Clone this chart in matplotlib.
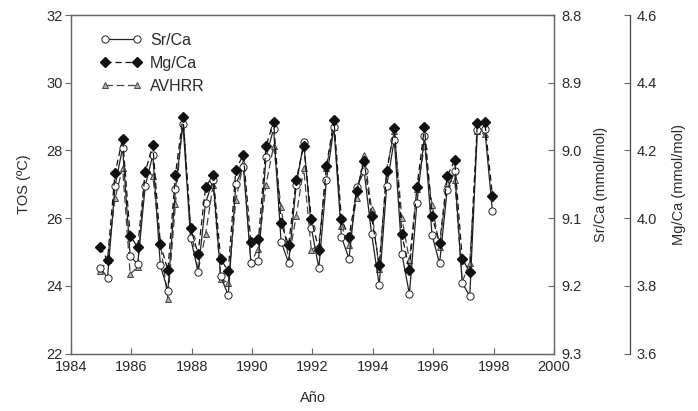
import matplotlib
matplotlib.use('Agg')

import matplotlib.pyplot as plt
from matplotlib import font_manager
from matplotlib.ticker import FormatStrFormatter

FONT_SIZE = 12
INK = '#2a2a2a'
SPINE = '#666666'

# quarterly sampling times (decimal year)
years = [1984.96, 1985.21, 1985.46, 1985.71,
         1985.96, 1986.21, 1986.46, 1986.71,
         1986.96, 1987.21, 1987.46, 1987.71,
         1987.96, 1988.21, 1988.46, 1988.71,
         1988.96, 1989.21, 1989.46, 1989.71,
         1989.96, 1990.21, 1990.46, 1990.71,
         1990.96, 1991.21, 1991.46, 1991.71,
         1991.96, 1992.21, 1992.46, 1992.71,
         1992.96, 1993.21, 1993.46, 1993.71,
         1993.96, 1994.21, 1994.46, 1994.71,
         1994.96, 1995.21, 1995.46, 1995.71,
         1995.96, 1996.21, 1996.46, 1996.71,
         1996.96, 1997.21, 1997.46, 1997.71,
         1997.96]

# Sr/Ca (mmol/mol)
sr_ca = [9.173, 9.188, 9.052, 8.996, 9.156, 9.168, 9.052, 9.007,
         9.170, 9.207, 9.057, 8.961, 9.129, 9.179, 9.077, 9.044,
         9.186, 9.214, 9.050, 9.024, 9.166, 9.163, 9.010, 8.968,
         9.135, 9.166, 9.051, 8.988, 9.114, 9.174, 9.044, 8.966,
         9.128, 9.160, 9.054, 9.031, 9.124, 9.199, 9.052, 8.984,
         9.153, 9.212, 9.077, 8.978, 9.125, 9.167, 9.059, 9.031,
         9.196, 9.215, 8.970, 8.969, 9.090]

# Mg/Ca (mmol/mol)
mg_ca = [3.915, 3.876, 4.133, 4.235, 3.948, 3.914, 4.136, 4.215,
         3.923, 3.846, 4.128, 4.299, 3.972, 3.894, 4.092, 4.126,
         3.879, 3.843, 4.143, 4.187, 3.930, 3.937, 4.212, 4.285,
         3.985, 3.920, 4.113, 4.214, 3.998, 3.906, 4.153, 4.289,
         3.996, 3.945, 4.079, 4.170, 4.005, 3.861, 4.138, 4.267,
         3.952, 3.846, 4.092, 4.269, 4.005, 3.925, 4.123, 4.171,
         3.879, 3.841, 4.282, 4.283, 4.066]

# AVHRR sea surface temperature (ºC), no value for the last quarter
avhrr = [24.43, 24.76, 26.59, 27.48, 24.34, 24.56, 27.46, 27.25,
         25.25, 23.62, 26.42, 29.03, 25.75, 24.43, 25.53, 26.99,
         24.20, 24.09, 26.52, 27.63, 24.70, 25.10, 26.99, 28.12,
         26.32, 24.75, 26.07, 27.48, 25.06, 25.20, 27.48, 28.70,
         25.77, 25.20, 26.59, 27.87, 26.26, 24.50, 27.45, 28.57,
         26.00, 24.76, 26.85, 28.12, 26.39, 25.15, 27.03, 27.13,
         24.12, 24.68, 28.57, 28.47]

x_ticks = [1984, 1986, 1988, 1990, 1992, 1994, 1996, 1998, 2000]
t_ticks = [22, 24, 26, 28, 30, 32]
sr_ticks = [8.8, 8.9, 9.0, 9.1, 9.2, 9.3]
mg_ticks = [3.6, 3.8, 4.0, 4.2, 4.4, 4.6]


def pick_font():
    names = {f.name for f in font_manager.fontManager.ttflist}
    for name in ['Liberation Sans Narrow', 'Liberation Sans', 'DejaVu Sans']:
        if name in names:
            return name
    return 'DejaVu Sans'


FONT = pick_font()
if FONT != 'Liberation Sans Narrow':
    FONT_SIZE = 10.5
plt.rcParams['font.family'] = [FONT, 'DejaVu Sans']
plt.rcParams['text.color'] = INK
plt.rcParams['axes.labelcolor'] = INK
plt.rcParams['xtick.color'] = INK
plt.rcParams['ytick.color'] = INK


def plot(dest):
    fig = plt.figure(figsize=(6.98, 4.11), dpi=100)
    ax = fig.add_axes([0.1017, 0.1399, 0.6920, 0.8236])
    ax2 = ax.twinx()
    ax3 = ax.twinx()

    # temperature axis
    l_av, = ax.plot(years[:len(avhrr)], avhrr, color='#444444', lw=0.9,
                    ls=(0, (6, 3)), marker='^', ms=5, mfc='#b0b0b0',
                    mec='#444444', mew=0.7)
    ax.set_xlim(1984, 2000)
    ax.set_ylim(22, 32)
    ax.set_xticks(x_ticks)
    ax.set_yticks(t_ticks)
    ax.tick_params(axis='x', direction='in', length=4, pad=5,
                   labelsize=FONT_SIZE, color=SPINE)
    ax.tick_params(axis='y', direction='out', length=4, pad=2,
                   labelsize=FONT_SIZE, color=SPINE)
    ax.set_xlabel('Año', fontsize=FONT_SIZE)
    ax.set_ylabel('TOS (ºC)', fontsize=FONT_SIZE)
    ax.xaxis.set_label_coords(0.5, -0.111)
    ax.yaxis.set_label_coords(-0.082, 0.5)

    # Sr/Ca axis, inverted
    l_sr, = ax2.plot(years, sr_ca, color='#222222', lw=0.9, ls='-',
                     marker='o', ms=5.2, mfc='white', mec='#222222', mew=0.7)
    ax2.set_ylim(9.3, 8.8)
    ax2.set_yticks(sr_ticks)
    ax2.yaxis.set_major_formatter(FormatStrFormatter('%.1f'))
    ax2.tick_params(axis='y', direction='in', length=4, pad=5,
                    labelsize=FONT_SIZE, color=SPINE)
    ax2.set_ylabel('Sr/Ca (mmol/mol)', fontsize=FONT_SIZE)
    ax2.yaxis.set_label_coords(1.083, 0.5)

    # Mg/Ca axis, offset to the right
    l_mg, = ax3.plot(years, mg_ca, color='#111111', lw=0.9, ls=(0, (5, 3)),
                     marker='D', ms=4.6, mfc='#111111', mec='#111111')
    ax3.set_ylim(3.6, 4.6)
    ax3.set_yticks(mg_ticks)
    ax3.yaxis.set_major_formatter(FormatStrFormatter('%.1f'))
    ax3.spines['right'].set_position(('axes', 1.157))
    for side in ['top', 'bottom', 'left']:
        ax3.spines[side].set_visible(False)
    ax3.tick_params(axis='y', direction='in', length=4, pad=5,
                    labelsize=FONT_SIZE, color=SPINE)
    ax3.set_ylabel('Mg/Ca (mmol/mol)', fontsize=FONT_SIZE)
    ax3.yaxis.set_label_coords(1.244, 0.5)

    for a in [ax, ax2]:
        for s in a.spines.values():
            s.set_color(SPINE)
            s.set_linewidth(0.9)
    ax3.spines['right'].set_color('#444444')
    ax3.spines['right'].set_linewidth(0.9)

    ax3.legend([l_sr, l_mg, l_av], ['Sr/Ca', 'Mg/Ca', 'AVHRR'],
               loc='upper left', bbox_to_anchor=(0.031, 0.99),
               frameon=False, numpoints=2, handlelength=2.6,
               handletextpad=0.5, labelspacing=0.5,
               fontsize=FONT_SIZE + 1)

    fig.savefig(dest, dpi=100)
    plt.close(fig)


if __name__ == '__main__':
    plot('out.png')
